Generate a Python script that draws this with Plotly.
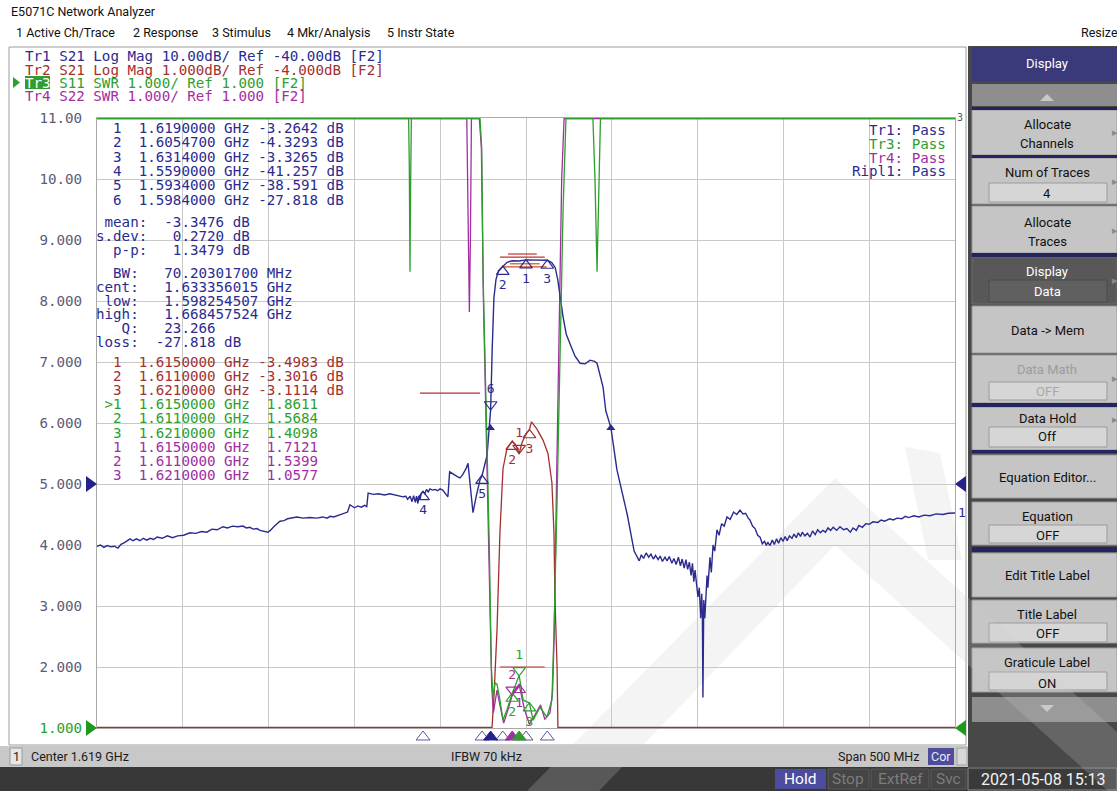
import numpy as np
import plotly.graph_objects as go

# ---------------- canvas / plot geometry ----------------
W, H = 1117, 791
PL, PR, PT, PB = 97, 955, 118, 728

# ---------------- stimulus & display settings ----------------
CENTER_GHZ = 1.619
SPAN_GHZ = 0.500
N_XDIV = 10
N_YDIV = 10
TR1_REF_DB, TR1_SCALE_DB = -40.0, 10.0
TR2_REF_DB, TR2_SCALE_DB = -4.0, 1.0
SWR_REF, SWR_SCALE = 1.0, 1.0
LOGMAG_REF_DIV = 4      # graticule line index of the log-mag reference (5.000 line)
SWR_REF_DIV = 0         # graticule line index of the SWR reference (1.000 line)

# ---------------- Tr1  S21 log mag (wide) ----------------
tr1_freq = [
    1.3690, 1.3710, 1.3730, 1.3750, 1.3770, 1.3790, 1.3812, 1.3830, 1.3850, 1.3865,
    1.3882, 1.3900, 1.3920, 1.3940, 1.3960, 1.3980, 1.4000, 1.4020, 1.4040, 1.4070,
    1.4100, 1.4130, 1.4160, 1.4195, 1.4232, 1.4265, 1.4300, 1.4330, 1.4360, 1.4390,
    1.4424, 1.4450, 1.4480, 1.4510, 1.4541, 1.4560, 1.4580, 1.4600, 1.4622, 1.4640,
    1.4660, 1.4686, 1.4700, 1.4720, 1.4756, 1.4780, 1.4800, 1.4830, 1.4855, 1.4890,
    1.4930, 1.4970, 1.5007, 1.5030, 1.5050, 1.5070, 1.5089, 1.5110, 1.5130, 1.5150,
    1.5164, 1.5178, 1.5190, 1.5210, 1.5230, 1.5250, 1.5262, 1.5270, 1.5300, 1.5330,
    1.5365, 1.5397, 1.5425, 1.5450, 1.5473, 1.5490, 1.5500, 1.5515, 1.5526, 1.5535,
    1.5545, 1.5552, 1.5560, 1.5567, 1.5572, 1.5580, 1.5590, 1.5600, 1.5610, 1.5620,
    1.5630, 1.5645, 1.5660, 1.5675, 1.5689, 1.5705, 1.5720, 1.5735, 1.5745, 1.5760,
    1.5775, 1.5790, 1.5805, 1.5818, 1.5830, 1.5842, 1.5852, 1.5865, 1.5881, 1.5900,
    1.5922, 1.5934, 1.5950, 1.5963, 1.5975, 1.5984, 1.5993, 1.6003, 1.6015, 1.6030,
    1.6055, 1.6080, 1.6110, 1.6150, 1.6190, 1.6230, 1.6270, 1.6300, 1.6314, 1.6340,
    1.6360, 1.6375, 1.6388, 1.6406, 1.6425, 1.6446, 1.6475, 1.6505, 1.6535, 1.6563,
    1.6590, 1.6604, 1.6625, 1.6639, 1.6655, 1.6685, 1.6720, 1.6780, 1.6820, 1.6837,
    1.6850, 1.6862, 1.6875, 1.6890, 1.6905, 1.6918, 1.6932, 1.6945, 1.6960, 1.6972,
    1.6985, 1.7000, 1.7012, 1.7025, 1.7040, 1.7052, 1.7065, 1.7078, 1.7090, 1.7100,
    1.7112, 1.7122, 1.7132, 1.7142, 1.7152, 1.7160, 1.7168, 1.7175, 1.7185, 1.7192,
    1.7200, 1.7208, 1.7214, 1.7218, 1.7221, 1.7226, 1.7232, 1.7239, 1.7245, 1.7250,
    1.7262, 1.7270, 1.7280, 1.7290, 1.7303, 1.7315, 1.7330, 1.7345, 1.7361, 1.7380,
    1.7400, 1.7418, 1.7437, 1.7455, 1.7470, 1.7485, 1.7495, 1.7510, 1.7525, 1.7540,
    1.7554, 1.7567, 1.7580, 1.7590, 1.7600, 1.7612, 1.7625, 1.7637, 1.7650, 1.7662,
    1.7675, 1.7688, 1.7700, 1.7712, 1.7725, 1.7740, 1.7752, 1.7765, 1.7777, 1.7790,
    1.7800, 1.7815, 1.7830, 1.7845, 1.7860, 1.7875, 1.7890, 1.7905, 1.7920, 1.7935,
    1.7950, 1.7965, 1.7980, 1.8000, 1.8020, 1.8040, 1.8060, 1.8080, 1.8096, 1.8115,
    1.8130, 1.8150, 1.8170, 1.8190, 1.8212, 1.8240, 1.8260, 1.8280, 1.8310, 1.8330,
    1.8352, 1.8380, 1.8400, 1.8420, 1.8450, 1.8480, 1.8510, 1.8544, 1.8580, 1.8620,
    1.8650, 1.8690]
tr1_db = [
    -50.2, -50.0, -50.4, -50.1, -50.3, -50.2, -50.5, -49.9, -49.6, -49.3,
    -49.0, -49.3, -49.0, -49.3, -48.9, -49.2, -48.9, -49.1, -48.7, -48.9,
    -48.5, -48.8, -48.5, -48.4, -48.0, -48.1, -47.8, -47.9, -47.4, -47.5,
    -47.0, -47.2, -46.9, -47.0, -46.9, -47.2, -47.1, -47.4, -47.3, -47.6,
    -47.7, -47.9, -47.6, -47.0, -46.1, -46.0, -45.7, -45.6, -45.4, -45.6,
    -45.5, -45.6, -45.4, -45.6, -45.3, -45.4, -45.2, -45.0, -44.8, -44.6,
    -43.4, -43.6, -43.9, -43.6, -43.8, -43.5, -43.7, -41.5, -41.7, -41.6,
    -41.8, -41.6, -41.8, -41.9, -42.1, -42.0, -42.5, -42.0, -42.9, -41.9,
    -43.0, -42.0, -43.2, -41.9, -42.6, -41.5, -41.26, -41.6, -40.9, -41.3,
    -40.8, -41.0, -40.9, -41.1, -40.8, -41.0, -41.5, -42.1, -38.0, -38.3,
    -38.6, -38.8, -39.0, -38.6, -38.0, -37.4, -36.6, -40.0, -44.7, -42.0,
    -39.3, -38.6, -37.0, -35.3, -31.0, -27.8, -18.0, -9.5, -6.5, -5.0,
    -4.33, -3.65, -3.40, -3.45, -3.26, -3.30, -3.25, -3.30, -3.33, -3.70,
    -4.5, -6.5, -9.3, -12.6, -15.5, -16.9, -19.0, -20.2, -20.3, -19.7,
    -19.9, -20.2, -22.5, -24.1, -28.0, -30.8, -37.7, -45.0, -51.0, -52.0,
    -52.6, -51.6, -52.2, -51.3, -52.0, -51.5, -52.3, -51.7, -52.4, -51.8,
    -52.7, -52.0, -52.6, -51.9, -53.0, -52.2, -53.2, -52.0, -53.4, -52.3,
    -53.8, -52.4, -54.0, -52.8, -55.0, -53.0, -56.0, -54.1, -56.5, -58.5,
    -57.0, -62.0, -58.0, -61.5, -75.0, -59.0, -62.0, -58.5, -55.0, -57.0,
    -52.0, -54.5, -50.0, -51.0, -47.5, -48.4, -46.5, -46.9, -45.4, -45.8,
    -44.6, -45.0, -44.3, -44.9, -44.8, -45.6, -45.9, -46.9, -47.3, -48.4,
    -48.7, -49.8, -49.4, -50.0, -49.6, -50.1, -49.2, -49.9, -49.0, -49.7,
    -48.8, -49.4, -48.6, -49.3, -48.5, -48.9, -48.2, -48.8, -48.0, -48.6,
    -47.9, -48.5, -48.1, -48.7, -47.7, -48.3, -47.5, -48.0, -47.6, -47.9,
    -47.2, -47.6, -47.1, -47.6, -47.0, -47.5, -47.3, -47.9, -47.2, -47.6,
    -46.8, -47.1, -46.5, -46.6, -46.2, -46.3, -45.9, -46.1, -45.7, -45.9,
    -45.6, -45.7, -45.3, -45.5, -45.2, -45.4, -45.1, -45.2, -44.9, -45.0,
    -44.8, -44.75]

# ---------------- Tr2  S21 log mag (zoomed passband) ----------------
tr2_freq = [1.3690, 1.5900, 1.5975, 1.5992, 1.6003, 1.6021, 1.6038, 1.6056, 1.6079, 1.6110,
            1.6128, 1.6150, 1.6167, 1.6190, 1.6210, 1.6222, 1.6254, 1.6289, 1.6318, 1.6341,
            1.6353, 1.6359, 1.6371, 1.6376, 1.6395, 1.6450, 1.8690]
tr2_db = [-40.0, -40.0, -12.0, -8.0, -7.5, -6.4, -4.8, -3.75, -3.42, -3.30,
          -3.35, -3.50, -3.32, -3.18, -3.11, -2.98, -3.10, -3.28, -3.50, -3.98,
          -4.80, -5.90, -7.00, -8.00, -12.0, -40.0, -40.0]

# ---------------- Tr3  S11 SWR ----------------
tr3_freq = [1.3690, 1.5506, 1.5510, 1.5514, 1.5518, 1.5522, 1.5922, 1.5932, 1.5940, 1.5962,
            1.5976, 1.5988, 1.5998, 1.6010, 1.6021, 1.6038, 1.6056, 1.6079, 1.6110, 1.6150,
            1.6173, 1.6210, 1.6231, 1.6272, 1.6312, 1.6341, 1.6353, 1.6371, 1.6382, 1.6406,
            1.6423, 1.6426, 1.6580, 1.6592, 1.6604, 1.6616, 1.6624, 1.8690]
tr3_swr = [30.0, 30.0, 10.2, 8.48, 10.0, 30.0, 30.0, 10.5, 8.4, 6.0,
           4.0, 2.0, 1.5, 1.74, 1.72, 1.46, 1.13, 1.30, 1.5684, 1.8611,
           1.46, 1.4098, 1.13, 1.34, 1.18, 1.46, 2.56, 4.74, 6.38, 9.49,
           11.5, 30.0, 30.0, 10.0, 8.48, 10.0, 30.0, 30.0]

# ---------------- Tr4  S22 SWR ----------------
tr4_freq = [1.3690, 1.5845, 1.5852, 1.5860, 1.5866, 1.5872, 1.5918, 1.5930, 1.5942, 1.5962,
            1.5978, 1.5990, 1.6000, 1.6021, 1.6040, 1.6060, 1.6085, 1.6110, 1.6150, 1.6180,
            1.6210, 1.6245, 1.6275, 1.6300, 1.6330, 1.6345, 1.6355, 1.6368, 1.6380, 1.6398,
            1.6412, 1.8690]
tr4_swr = [30.0, 30.0, 9.5, 7.82, 9.0, 30.0, 30.0, 10.5, 8.0, 5.5,
           3.2, 1.7, 1.25, 1.62, 1.35, 1.08, 1.30, 1.5399, 1.7121, 1.32,
           1.0577, 1.22, 1.38, 1.14, 1.25, 1.6, 2.6, 5.0, 7.2, 10.0,
           30.0, 30.0]

# ---------------- markers ----------------
m1_freq = [1.6190000, 1.6054700, 1.6314000, 1.5590000, 1.5934000, 1.5984000]
m1_db = [-3.2642, -4.3293, -3.3265, -41.257, -38.591, -27.818]
m1_dir = ["up", "up", "up", "up", "up", "down"]
m2_freq = [1.6150000, 1.6110000, 1.6210000]
m2_db = [-3.4983, -3.3016, -3.1114]
m2_dir = ["down", "up", "up"]
m3_freq = [1.6150000, 1.6110000, 1.6210000]
m3_swr = [1.8611, 1.5684, 1.4098]
m3_dir = ["down", "up", "up"]
m4_freq = [1.6150000, 1.6110000, 1.6210000]
m4_swr = [1.7121, 1.5399, 1.0577]
m4_dir = ["up", "down", "up"]
ACTIVE_M1, ACTIVE_M3, ACTIVE_M4 = 5, 0, 1

stat_mean, stat_sdev, stat_pp = -3.3476, 0.2720, 1.3479
bw_mhz, bw_cent, bw_low, bw_high, bw_q, bw_loss = 70.20301700, 1.633356015, 1.598254507, 1.668457524, 23.266, -27.818
BW_DROP_DB = 3.0

# limit lines (freq start, freq stop, value)
tr1_ripple_limits = [(1.6038, 1.6299, -2.8), (1.6085, 1.6253, -2.3),
                     (1.6050, 1.6310, -4.4), (1.6097, 1.6270, -3.9)]
tr1_aux_limit = [(1.5572, 1.5922, -25.1)]
tr3_limit = [(1.6038, 1.6299, 2.0)]

pass_lines = [("Tr1: Pass", "navy"), ("Tr3: Pass", "green"), ("Tr4: Pass", "purple"), ("Ripl1: Pass", "navy")]

assert len(tr1_freq) == len(tr1_db)
assert len(tr2_freq) == len(tr2_db)
assert len(tr3_freq) == len(tr3_swr)
assert len(tr4_freq) == len(tr4_swr)

# ---------------- colours ----------------
C = {"navy": "#2b2b8f", "red": "#a33030", "green": "#2e9e2e", "purple": "#a22ea2"}
GRID = "#c9c9c9"
MONO = "DejaVu Sans Mono"
UI = "Roboto"

f_start = CENTER_GHZ - SPAN_GHZ / 2
f_stop = CENTER_GHZ + SPAN_GHZ / 2


def to_div(vals, ref, scale, ref_div):
    return ref_div + (np.asarray(vals, dtype=float) - ref) / scale


def clamp(g):
    return np.clip(g, 0.008, N_YDIV - 0.008)


def PX(x):
    return (x - PL) / (PR - PL)


def PY(y):
    return (PB - y) / (PB - PT)


def FX(f):
    """frequency -> paper x (same mapping as the x axis)"""
    return (f - f_start) / SPAN_GHZ


def nb(s):
    return s.replace(" ", "\u00a0")


g1 = to_div(tr1_db, TR1_REF_DB, TR1_SCALE_DB, LOGMAG_REF_DIV)
g2 = to_div(tr2_db, TR2_REF_DB, TR2_SCALE_DB, LOGMAG_REF_DIV)
g3 = to_div(tr3_swr, SWR_REF, SWR_SCALE, SWR_REF_DIV)
g4 = to_div(tr4_swr, SWR_REF, SWR_SCALE, SWR_REF_DIV)

fig = go.Figure()

# ---------------- traces ----------------
fig.add_trace(go.Scatter(x=tr4_freq, y=clamp(g4), mode="lines", line=dict(color=C["purple"], width=1.3)))
fig.add_trace(go.Scatter(x=tr2_freq, y=clamp(g2), mode="lines", line=dict(color=C["red"], width=1.3)))
fig.add_trace(go.Scatter(x=tr1_freq, y=clamp(g1), mode="lines", line=dict(color=C["navy"], width=1.4)))
fig.add_trace(go.Scatter(x=tr3_freq, y=clamp(g3), mode="lines", line=dict(color=C["green"], width=1.3)))


def seg_trace(segs, conv, color, width=1.2):
    xs, ys = [], []
    for a, b, v in segs:
        g = float(conv(v))
        xs += [a, b, None]
        ys += [g, g, None]
    return go.Scatter(x=xs, y=ys, mode="lines", line=dict(color=color, width=width))


conv1 = lambda v: to_div(v, TR1_REF_DB, TR1_SCALE_DB, LOGMAG_REF_DIV)
conv3 = lambda v: to_div(v, SWR_REF, SWR_SCALE, SWR_REF_DIV)
fig.add_trace(seg_trace(tr1_ripple_limits[:2], conv1, "#c03030"))
fig.add_trace(seg_trace(tr1_ripple_limits[2:], conv1, "#d05020"))
fig.add_trace(seg_trace(tr1_aux_limit, conv1, "#b03030"))
fig.add_trace(seg_trace(tr3_limit, conv3, "#b03030"))

# BW search triangles
bw_g = float(conv1(bw_loss - BW_DROP_DB))
fig.add_trace(go.Scatter(x=[bw_low, bw_high], y=[bw_g, bw_g], mode="markers",
                         marker=dict(symbol="triangle-up", size=8, color=C["navy"])))

OFF = 0.085


def add_markers(freqs, gvals, dirs, color):
    for d in ("up", "down"):
        idx = [i for i, dd in enumerate(dirs) if dd == d]
        if not idx:
            continue
        xs = [freqs[i] for i in idx]
        ys = [gvals[i] - OFF if d == "up" else gvals[i] + OFF for i in idx]
        fig.add_trace(go.Scatter(
            x=xs, y=ys, mode="markers+text", text=[str(i + 1) for i in idx],
            textposition="bottom center" if d == "up" else "top center",
            textfont=dict(family=MONO, size=13, color=color),
            marker=dict(symbol="triangle-up-open" if d == "up" else "triangle-down-open",
                        size=11, color=color, line=dict(width=1.2, color=color)),
            cliponaxis=False))


add_markers(m2_freq, list(to_div(m2_db, TR2_REF_DB, TR2_SCALE_DB, LOGMAG_REF_DIV)), m2_dir, C["red"])
add_markers(m4_freq, list(conv3(m4_swr)), m4_dir, C["purple"])
add_markers(m3_freq, list(conv3(m3_swr)), m3_dir, C["green"])
add_markers(m1_freq, list(conv1(m1_db)), m1_dir, C["navy"])

# ---------------- axes ----------------
xt = list(np.linspace(f_start, f_stop, N_XDIV + 1))
yt = list(range(N_YDIV + 1))


def swr_label(k):
    v = SWR_REF + (k - SWR_REF_DIV) * SWR_SCALE
    s = f"{v:.3f}" if v < 10 else f"{v:.2f}"
    if k == SWR_REF_DIV:
        return f"<span style='color:{C['green']}'>{s}</span>"
    return s


fig.update_xaxes(range=[f_start, f_stop], tickvals=xt, showticklabels=False, showgrid=True,
                 gridcolor=GRID, gridwidth=1, zeroline=False, showline=True, linecolor="#a9a9a9",
                 linewidth=1, mirror=True, ticks="", fixedrange=True)
fig.update_yaxes(range=[0, N_YDIV], tickvals=yt, ticktext=[swr_label(k) for k in yt],
                 showgrid=True, gridcolor=GRID, gridwidth=1, zeroline=False, showline=True,
                 linecolor="#a9a9a9", linewidth=1, mirror=True, ticks="outside", ticklen=11,
                 tickcolor="rgba(0,0,0,0)", tickfont=dict(family=MONO, size=14.2, color="#5c5c78"),
                 fixedrange=True)

# ---------------- background shapes ----------------
shapes = []


def rect(x0, y0, x1, y1, fill, line=None, lw=1, layer="below"):
    shapes.append(dict(type="rect", xref="paper", yref="paper", x0=PX(x0), x1=PX(x1),
                       y0=PY(y1), y1=PY(y0), fillcolor=fill,
                       line=dict(color=line or "rgba(0,0,0,0)", width=lw if line else 0),
                       layer=layer))


def poly(points, fill, layer="below", line=None):
    path = "M " + " L ".join(f"{PX(x):.5f},{PY(y):.5f}" for x, y in points) + " Z"
    shapes.append(dict(type="path", xref="paper", yref="paper", path=path, fillcolor=fill,
                       line=dict(width=1 if line else 0, color=line or "rgba(0,0,0,0)"),
                       layer=layer))


# screen frame
rect(0, 0, W, 46, "#ffffff")
rect(9, 47, 966, 745, "#ffffff", "#9c9c9c", 1)
# status row & bottom bar
rect(0, 746, 968, 767, "#c8c8c8")
rect(10, 748, 22, 765, "#e6e6e6", "#9a9a9a")
rect(928, 748, 954, 765, "#4d4d9c")
rect(957, 748, 967, 765, "#d8d8d8", "#a0a0a0")
rect(0, 767, W, H, "#383838")
rect(775, 769, 826, 789, "#4c4c9e")
rect(828, 769, 869, 789, "#454545", "#5a5a5a")
rect(871, 769, 929, 789, "#454545", "#5a5a5a")
rect(931, 769, 966, 789, "#454545", "#5a5a5a")
rect(968, 768, 1117, 790, "#3a3a3a", "#8a8a8a")

# softkey panel
rect(968, 46, W, 767, "#484848")
NAVYSEP = "#24245e"
rect(972, 47, W, 81, "#3a3979")
rect(972, 84, W, 106, "#8e8e8e")
buttons = [(110, 155), (158, 204), (206, 253), (306, 353), (355, 403), (407, 450),
           (455, 498), (502, 545), (553, 597), (600, 643), (648, 692)]
for y0, y1 in buttons:
    rect(972, y0, W, y1, "#c5c5c5", "#9a9a9a")
rect(972, 257, W, 304, "#585858", "#6a6a6a")
for y0, y1 in [(107, 110), (155, 158), (253, 257), (403, 407), (450, 453), (547, 552)]:
    rect(972, y0, W, y1, NAVYSEP)
for y0, y1 in [(183, 202), (382, 400), (427, 447), (525, 543), (623, 642), (672, 690)]:
    rect(989, y0, 1107, y1, "#d6d6d6", "#9a9a9a")
rect(989, 280, 1107, 302, "#606060", "#4a4a4a")
rect(972, 697, W, 722, "#8e8e8e")
poly([(1040, 101), (1054, 101), (1047, 94)], "#c8c8c8")
poly([(1040, 705), (1054, 705), (1047, 712)], "#c8c8c8")

# watermark
WM = "rgba(205,205,205,0.22)"
poly([(527, 791), (835, 478), (1117, 732), (1117, 791), (1108, 791), (835, 545), (599, 791)], WM)
poly([(905, 447), (940, 453), (962, 560), (928, 560)], WM)

# Tr3 highlight box, reference-level triangles
rect(25, 76, 50, 89, "#2e9e2e")
poly([(13, 77), (20, 82.5), (13, 88)], C["green"])


def ref_tri(div, color, side):
    y = PB - div * (PB - PT) / N_YDIV
    if side == "left":
        pts = [(86, y - 8), (97, y), (86, y + 8)]
    else:
        pts = [(966, y - 8), (955, y), (966, y + 8)]
    poly(pts, color, layer="above")


ref_tri(LOGMAG_REF_DIV, "#22228a", "left")
ref_tri(LOGMAG_REF_DIV, "#22228a", "right")
ref_tri(SWR_REF_DIV, "#1f9a1f", "left")
ref_tri(SWR_REF_DIV, "#1f9a1f", "right")


# marker position indicators below the graticule (x from marker stimulus)
def indicator(freq, color, filled):
    x = PL + FX(freq) * (PR - PL)
    pts = [(x - 7, 740), (x + 7, 740), (x, 731)]
    poly(pts, color if filled else "rgba(0,0,0,0)", layer="above", line=color)


for i, f in enumerate(m1_freq):
    if i != ACTIVE_M1:
        indicator(f, "#5a5a9a", False)
indicator(m4_freq[ACTIVE_M4], C["purple"], True)
indicator(m3_freq[ACTIVE_M3], C["green"], True)
indicator(m1_freq[ACTIVE_M1], "#22228a", True)

# ---------------- annotations ----------------
anns = []


def ann(x, y, text, color="#000000", size=12, family=UI, anchor="left", bg=None):
    d = dict(xref="paper", yref="paper", x=PX(x), y=PY(y), text=text, showarrow=False,
             xanchor=anchor, yanchor="middle", font=dict(family=family, size=size, color=color),
             borderpad=0)
    if bg:
        d["bgcolor"] = bg
    anns.append(d)


# window title and menus
ann(10, 12, "E5071C Network Analyzer", "#111111", 12.5)
for x, t in [(15, "1 Active Ch/Trace"), (132, "2 Response"), (211, "3 Stimulus"),
             (286, "4 Mkr/Analysis"), (386, "5 Instr State")]:
    ann(x, 33, t, "#111111", 12.5)
ann(1080, 33, "Resize", "#111111", 12.5)

# trace header lines
hdr = [
    (f"Tr1 S21 Log Mag {TR1_SCALE_DB:.2f}dB/ Ref {TR1_REF_DB:.2f}dB [F2]", "navy", 56),
    (f"Tr2 S21 Log Mag {TR2_SCALE_DB:.3f}dB/ Ref {TR2_REF_DB:.3f}dB [F2]", "red", 69.5),
    (f"Tr3 S11 SWR {SWR_SCALE:.3f}/ Ref {SWR_REF:.3f} [F2]", "green", 82.5),
    (f"Tr4 S22 SWR {SWR_SCALE:.3f}/ Ref {SWR_REF:.3f} [F2]", "purple", 96),
]
for t, c, y in hdr:
    ann(24, y, nb(t), C[c], 14.2, MONO)
ann(24, 82.5, "Tr3", "#ffffff", 14.2, MONO)

# marker readouts
X0 = 95
y = 128.0
for i, (f, v) in enumerate(zip(m1_freq, m1_db)):
    ann(X0, y, nb(f"  {i + 1}  {f:.7f} GHz {v:.5g} dB"), C["navy"], 14.2, MONO)
    y += 14.3
for lab, v, yy in [("mean:", stat_mean, 222), ("s.dev:", stat_sdev, 236), ("p-p:", stat_pp, 250)]:
    ann(X0, yy, nb(f"{lab:>6}  {v: .4f} dB"), C["navy"], 14.2, MONO)
bw_rows = [("BW:", f"{bw_mhz:.8f} MHz"), ("cent:", f"{bw_cent:.9f} GHz"), ("low:", f"{bw_low:.9f} GHz"),
           ("high:", f"{bw_high:.9f} GHz"), ("Q:", f"{bw_q:.3f}"), ("loss:", f"{bw_loss:.3f} dB")]
for j, (lab, val) in enumerate(bw_rows):
    sign = "" if val.startswith("-") else " "
    ann(X0, 273 + 13.8 * j, nb(f"{lab:>5}  {sign}{val}"), C["navy"], 14.2, MONO)
yy = 362
for i, (f, v) in enumerate(zip(m2_freq, m2_db)):
    ann(X0, yy, nb(f"  {i + 1}  {f:.7f} GHz {v:.5g} dB"), C["red"], 14.2, MONO)
    yy += 14.1
for i, (f, v) in enumerate(zip(m3_freq, m3_swr)):
    pre = " >" if i == ACTIVE_M3 else "  "
    ann(X0, yy, nb(f"{pre}{i + 1}  {f:.7f} GHz  {v:.4f}"), C["green"], 14.2, MONO)
    yy += 14.1
for i, (f, v) in enumerate(zip(m4_freq, m4_swr)):
    ann(X0, yy, nb(f"  {i + 1}  {f:.7f} GHz  {v:.4f}"), C["purple"], 14.2, MONO)
    yy += 14.1

# limit test results
for k, (t, c) in enumerate(pass_lines):
    ann(947, 130 + 13.8 * k, nb(t), C[c], 14.2, MONO, anchor="right")

# trace end label and corner indicator
anns.append(dict(xref="x", yref="y", x=tr1_freq[-1], y=float(clamp(g1)[-1]), text="1",
                 showarrow=False, xanchor="left", xshift=1, yanchor="middle",
                 font=dict(family=MONO, size=13, color=C["navy"])))
ann(956, 117, "3", "#5a5a5a", 10, MONO)

# status row
ann(16, 756.5, "1", "#222222", 12.5, UI, anchor="center")
ann(30, 756.5, f"Center {CENTER_GHZ:.3f} GHz", "#1a1a1a", 12.5)
ann(486, 756.5, "IFBW 70 kHz", "#1a1a1a", 12.5, UI, anchor="center")
ann(920, 756.5, f"Span {SPAN_GHZ * 1000:.0f} MHz", "#1a1a1a", 12.5, UI, anchor="right")
ann(941, 756.5, "Cor", "#e8e8ff", 12.5, UI, anchor="center")

# bottom bar
ann(800, 779, "Hold", "#ffffff", 15.5, UI, anchor="center")
ann(848, 779, "Stop", "#7c7c7c", 15.5, UI, anchor="center")
ann(900, 779, "ExtRef", "#7c7c7c", 15.5, UI, anchor="center")
ann(948, 779, "Svc", "#7c7c7c", 15.5, UI, anchor="center")
ann(1043, 779, "2021-05-08 15:13", "#f2f2f2", 16, UI, anchor="center")

# softkeys
KC = 1047
ann(KC, 64, "Display", "#ffffff", 13, UI, anchor="center")
sk = [
    (124, "Allocate", "#111111"), (143, "Channels", "#111111"),
    (172, "Num of Traces", "#111111"), (193, "4", "#111111"),
    (222, "Allocate", "#111111"), (241, "Traces", "#111111"),
    (271, "Display", "#ffffff"), (291, "Data", "#ffffff"),
    (330, "Data -> Mem", "#111111"),
    (369, "Data Math", "#9c9c9c"), (391, "OFF", "#a8a8a8"),
    (418, "Data Hold", "#111111"), (437, "Off", "#111111"),
    (477, "Equation Editor...", "#111111"),
    (516, "Equation", "#111111"), (535, "OFF", "#111111"),
    (575, "Edit Title Label", "#111111"),
    (614, "Title Label", "#111111"), (633, "OFF", "#111111"),
    (662, "Graticule Label", "#111111"), (683, "ON", "#111111"),
]
for yk, t, c in sk:
    ann(KC, yk, t, c, 13, UI, anchor="center")
for yk in [132, 181, 230, 280, 378, 420]:
    ann(1111, yk, "\u25B8", "#8a8a8a", 11, "DejaVu Sans")

fig.update_layout(
    width=W, height=H,
    margin=dict(l=PL, r=W - PR, t=PT, b=H - PB, pad=0, autoexpand=False),
    paper_bgcolor="#ffffff", plot_bgcolor="#ffffff",
    showlegend=False, shapes=shapes, annotations=anns,
    hovermode=False,
)

fig.write_html("out.html", config={"displayModeBar": False, "staticPlot": True},
               post_script="document.body.style.margin='0';document.body.style.overflow='hidden';")
